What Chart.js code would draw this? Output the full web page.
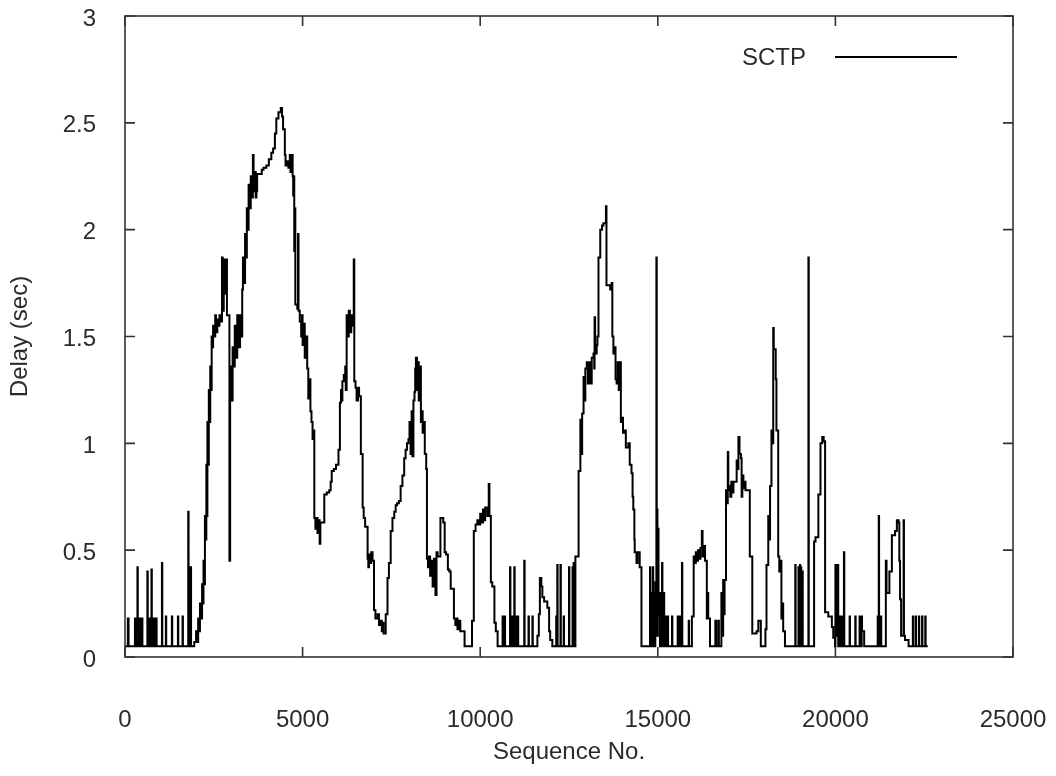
<!DOCTYPE html>
<html>
<head>
<meta charset="utf-8">
<script src="https://cdn.jsdelivr.net/npm/chart.js@4.4.1/dist/chart.umd.min.js"></script>
<style>
  html, body { margin: 0; padding: 0; background: #fff; }
  #wrap { width: 1056px; height: 776px; }
</style>
</head>
<body>
<div id="wrap"><canvas id="chart" width="1056" height="776"></canvas></div>
<script>
// sequence numbers (x) and delay in seconds (y)
const seqNo = [
  0, 80, 100, 280, 290, 310, 320, 350, 360, 380,
  400, 410, 440, 450, 480, 490, 600, 630, 640, 670,
  680, 710, 720, 745, 755, 780, 810, 820, 850, 860,
  880, 890, 1040, 1050, 1150, 1160, 1320, 1330, 1490, 1500,
  1620, 1630, 1780, 1790, 1800, 1820, 1840, 1860, 1950, 2000,
  // first hump
  2040, 2060, 2090, 2110, 2140, 2170, 2190, 2210, 2235, 2250,
  2270, 2290, 2300, 2320, 2340, 2360, 2375, 2400, 2420, 2440,
  2460, 2480, 2500, 2540, 2560, 2600, 2640, 2660, 2700, 2730,
  2750, 2780, 2800, 2830, 2870, 2900, 2940, 2960, 2980, 3000,
  3030, 3060, 3090, 3120, 3160, 3200, 3240, 3270, 3300, 3320,
  3350, 3380, 3400, 3430, 3460, 3480, 3510, 3540, 3570, 3600,
  3620, 3650, 3680, 3700, 3720, 3790, 3850, 3900, 3980, 4050,
  4120, 4170, 4220, 4260, 4320, 4385, 4420, 4450, 4500, 4520,
  4560, 4600, 4640, 4660, 4690, 4720, 4735, 4750, 4765, 4780,
  4795, 4850, 4870, 4885, 4920, 4960, 4980, 5000, 5040, 5060,
  // 5000 - 10500
  5100, 5130, 5160, 5190, 5220, 5250, 5280, 5310, 5330, 5360,
  5390, 5420, 5450, 5480, 5500, 5540, 5610, 5680, 5750, 5790,
  5820, 5880, 5940, 6010, 6050, 6080, 6100, 6120, 6160, 6200,
  6215, 6240, 6270, 6300, 6330, 6370, 6390, 6440, 6455, 6490,
  6520, 6560, 6590, 6640, 6690, 6720, 6760, 6830, 6850, 6870,
  6900, 6930, 6970, 7010, 7050, 7110, 7150, 7190, 7230, 7250,
  7280, 7340, 7390, 7430, 7480, 7530, 7580, 7620, 7660, 7710,
  7760, 7810, 7860, 7900, 7940, 7980, 8010, 8040, 8070, 8090,
  8120, 8150, 8170, 8190, 8220, 8240, 8270, 8310, 8330, 8350,
  8380, 8410, 8440, 8480, 8500, 8530, 8560, 8590, 8620, 8660,
  8700, 8740, 8770, 8800, 8840, 8880, 8930, 8960, 9000, 9040,
  9090, 9130, 9170, 9210, 9260, 9300, 9330, 9360, 9400, 9440,
  9490, 9560, 9730, 9770, 9820, 9870, 9920, 9960, 10000, 10040,
  10080, 10110, 10140, 10200, 10240, 10260, 10300, 10340, 10400, 10440,
  // 10500 - 14500
  10490, 10630, 10650, 10680, 10700, 10840, 10850, 10870, 10890, 10910,
  10930, 10960, 10970, 10990, 11010, 11030, 11050, 11070, 11240, 11250,
  11360, 11370, 11470, 11480, 11610, 11650, 11680, 11720, 11750, 11800,
  11890, 11940, 11970, 12030, 12140, 12160, 12170, 12180, 12260, 12270,
  12350, 12360, 12500, 12510, 12600, 12610, 12630, 12650, 12680, 12770,
  12820, 12840, 12870, 12910, 12940, 12960, 13000, 13030, 13060, 13100,
  13140, 13190, 13210, 13220, 13235, 13280, 13300, 13330, 13380, 13430,
  13470, 13540, 13555, 13620, 13660, 13700, 13720, 13750, 13790, 13810,
  13840, 13870, 13900, 13930, 13960, 13980, 14020, 14070, 14100, 14170,
  14210, 14260, 14290, 14310, 14340, 14350, 14400, 14430, 14490, 14540,
  // 14500 - 18300
  14780, 14790, 14820, 14840, 14860, 14870, 14890, 14910, 14930, 14950,
  14960, 14970, 14990, 15000, 15020, 15040, 15060, 15080, 15100, 15120,
  15130, 15160, 15180, 15210, 15230, 15280, 15290, 15400, 15410, 15560,
  15580, 15600, 15620, 15650, 15670, 15680, 15690, 15870, 15880, 15960,
  16010, 16040, 16070, 16100, 16130, 16160, 16200, 16240, 16260, 16290,
  16330, 16380, 16400, 16420, 16470, 16620, 16640, 16700, 16720, 16790,
  16810, 16840, 16860, 16880, 16920, 16950, 16970, 16985, 17010, 17040,
  17070, 17100, 17130, 17180, 17220, 17245, 17270, 17300, 17340, 17360,
  17380, 17410, 17440, 17470, 17500, 17590, 17660, 17780, 17830, 17900,
  18030, 18060, 18110, 18140, 18160, 18200, 18230, 18250, 18265, 18300,
  // tail
  18320, 18340, 18390, 18420, 18450, 18480, 18500, 18530, 18580, 18870,
  18880, 18960, 18970, 19000, 19010, 19030, 19040, 19070, 19080, 19240,
  19250, 19400, 19440, 19520, 19580, 19630, 19670, 19710, 19800, 19900,
  19940, 19990, 20000, 20010, 20060, 20080, 20130, 20150, 20180, 20200,
  20240, 20250, 20400, 20410, 20560, 20570, 20680, 20700, 20740, 20750,
  20810, 21190, 21200, 21220, 21230, 21280, 21290, 21420, 21440, 21520,
  21590, 21680, 21730, 21780, 21800, 21820, 21850, 21920, 21930, 21960,
  22060, 22180, 22190, 22260, 22270, 22350, 22360, 22440, 22450, 22530,
  22540, 22600
];

const delay = [
  0.05, 0.18, 0.05, 0.18, 0.05, 0.18, 0.05, 0.42, 0.18, 0.05,
  0.18, 0.05, 0.18, 0.05, 0.18, 0.05, 0.05, 0.40, 0.05, 0.18,
  0.05, 0.18, 0.05, 0.41, 0.18, 0.05, 0.18, 0.05, 0.18, 0.05,
  0.18, 0.05, 0.44, 0.05, 0.19, 0.05, 0.19, 0.05, 0.19, 0.05,
  0.19, 0.05, 0.68, 0.05, 0.42, 0.05, 0.42, 0.05, 0.07, 0.12,
  // first hump
  0.07, 0.18, 0.12, 0.25, 0.18, 0.34, 0.25, 0.45, 0.34, 0.66,
  0.55, 0.90, 0.66, 1.10, 0.90, 1.25, 1.10, 1.36, 1.25, 1.50,
  1.45, 1.55, 1.50, 1.60, 1.52, 1.58, 1.55, 1.60, 1.57, 1.87,
  1.62, 1.86, 1.70, 1.86, 1.60, 1.60, 0.45, 1.20, 1.36, 1.20,
  1.45, 1.36, 1.55, 1.40, 1.60, 1.45, 1.60, 1.50, 1.72, 1.87,
  1.75, 1.98, 1.87, 2.10, 2.00, 2.21, 2.10, 2.25, 2.15, 2.35,
  2.18, 2.27, 2.15, 2.18, 2.26, 2.26, 2.28, 2.29, 2.30, 2.33,
  2.36, 2.38, 2.45, 2.52, 2.55, 2.57, 2.53, 2.47, 2.35, 2.30,
  2.32, 2.29, 2.35, 2.27, 2.35, 2.25, 2.16, 2.25, 1.90, 2.10,
  1.65, 1.63, 1.98, 1.62, 1.57, 1.50, 1.60, 1.46, 1.56, 1.40,
  // 5000 - 10500
  1.50, 1.35, 1.21, 1.30, 1.15, 1.10, 1.02, 1.06, 0.65, 0.60,
  0.65, 0.58, 0.64, 0.53, 0.63, 0.63, 0.76, 0.77, 0.78, 0.82,
  0.87, 0.88, 0.90, 0.97, 1.19, 1.25, 1.20, 1.29, 1.32, 1.36,
  1.25, 1.60, 1.50, 1.62, 1.52, 1.60, 1.55, 1.86, 1.29, 1.26,
  1.20, 1.26, 1.22, 0.95, 0.70, 0.65, 0.61, 0.46, 0.42, 0.48,
  0.44, 0.49, 0.45, 0.22, 0.18, 0.20, 0.15, 0.17, 0.12, 0.16,
  0.11, 0.20, 0.37, 0.44, 0.59, 0.65, 0.68, 0.71, 0.72, 0.73,
  0.80, 0.85, 0.93, 0.97, 1.00, 1.02, 1.10, 0.95, 1.15, 0.94,
  1.20, 1.24, 1.35, 1.40, 1.25, 1.38, 1.20, 1.36, 1.10, 1.15,
  1.05, 1.10, 0.95, 0.88, 0.46, 0.42, 0.47, 0.38, 0.45, 0.33,
  0.46, 0.29, 0.49, 0.47, 0.47, 0.65, 0.65, 0.63, 0.49, 0.48,
  0.41, 0.40, 0.32, 0.32, 0.18, 0.15, 0.18, 0.13, 0.17, 0.12,
  0.12, 0.05, 0.05, 0.17, 0.59, 0.62, 0.64, 0.62, 0.67, 0.63,
  0.69, 0.64, 0.70, 0.66, 0.81, 0.66, 0.35, 0.33, 0.16, 0.12,
  // 10500 - 14500
  0.05, 0.19, 0.05, 0.19, 0.05, 0.42, 0.05, 0.19, 0.05, 0.19,
  0.05, 0.42, 0.19, 0.05, 0.19, 0.05, 0.19, 0.05, 0.45, 0.05,
  0.19, 0.05, 0.19, 0.05, 0.10, 0.20, 0.37, 0.33, 0.28, 0.26,
  0.23, 0.12, 0.08, 0.05, 0.19, 0.05, 0.43, 0.05, 0.43, 0.05,
  0.19, 0.05, 0.42, 0.05, 0.42, 0.05, 0.44, 0.05, 0.47, 0.87,
  1.11, 0.95, 1.14, 1.31, 1.20, 1.35, 1.38, 1.28, 1.38, 1.28,
  1.40, 1.42, 1.35, 1.59, 1.42, 1.46, 1.50, 1.87, 2.00, 2.02,
  2.03, 2.11, 1.74, 1.74, 1.72, 1.75, 1.50, 1.42, 1.45, 1.30,
  1.28, 1.38, 1.25, 1.38, 1.10, 1.12, 1.05, 1.06, 0.98, 1.00,
  0.90, 0.86, 0.75, 0.69, 0.55, 0.49, 0.44, 0.49, 0.42, 0.05,
  // 14500 - 18300
  0.42, 0.05, 0.30, 0.05, 0.42, 0.10, 0.30, 0.05, 0.35, 0.10,
  1.87, 0.69, 0.10, 0.60, 0.20, 0.30, 0.05, 0.30, 0.10, 0.44,
  0.05, 0.30, 0.05, 0.19, 0.05, 0.19, 0.05, 0.19, 0.05, 0.19,
  0.05, 0.19, 0.05, 0.19, 0.05, 0.44, 0.05, 0.17, 0.05, 0.19,
  0.47, 0.44, 0.49, 0.45, 0.50, 0.46, 0.51, 0.59, 0.47, 0.52,
  0.45, 0.18, 0.30, 0.18, 0.05, 0.17, 0.05, 0.17, 0.05, 0.30,
  0.10, 0.36, 0.20, 0.36, 0.78, 0.72, 0.96, 0.78, 0.80, 0.75,
  0.82, 0.77, 0.82, 0.82, 0.92, 0.88, 1.03, 0.95, 0.93, 0.75,
  0.85, 0.79, 0.82, 0.78, 0.78, 0.47, 0.11, 0.12, 0.17, 0.05,
  0.13, 0.43, 0.66, 0.55, 0.80, 1.06, 1.00, 1.54, 1.44, 1.44,
  // tail
  1.30, 1.06, 0.47, 0.40, 0.45, 0.18, 0.25, 0.12, 0.05, 0.43,
  0.05, 0.42, 0.05, 0.43, 0.10, 0.42, 0.05, 0.40, 0.05, 1.87,
  0.05, 0.54, 0.56, 0.76, 1.00, 1.03, 1.01, 0.21, 0.19, 0.14,
  0.09, 0.05, 0.43, 0.10, 0.43, 0.05, 0.19, 0.05, 0.19, 0.05,
  0.49, 0.05, 0.19, 0.05, 0.19, 0.05, 0.19, 0.05, 0.19, 0.12,
  0.05, 0.19, 0.05, 0.66, 0.05, 0.19, 0.05, 0.45, 0.30, 0.40,
  0.57, 0.59, 0.64, 0.63, 0.45, 0.27, 0.10, 0.64, 0.10, 0.08,
  0.05, 0.19, 0.05, 0.19, 0.05, 0.19, 0.05, 0.19, 0.05, 0.19,
  0.05, 0.05
];

const xTicks = [0, 5000, 10000, 15000, 20000, 25000];
const yTicks = [0, 0.5, 1, 1.5, 2, 2.5, 3];

if (seqNo.length !== delay.length) console.error('length mismatch', seqNo.length, delay.length);

const textColor = '#2b2b2b';
const frameColor = '#333333';
const font = { family: "'Liberation Sans', Arial, sans-serif", size: 24 };

// gnuplot-like frame with inward tick marks on all four sides, plus the key
const framePlugin = {
  id: 'frame',
  afterDatasetsDraw(chart) {
    const { ctx, chartArea: a, scales: { x, y } } = chart;
    const tick = 10;
    ctx.save();
    ctx.strokeStyle = frameColor;
    ctx.lineWidth = 1.6;
    ctx.strokeRect(a.left, a.top, a.right - a.left, a.bottom - a.top);
    ctx.beginPath();
    xTicks.forEach(v => {
      const px = x.getPixelForValue(v);
      ctx.moveTo(px, a.bottom); ctx.lineTo(px, a.bottom - tick);
      ctx.moveTo(px, a.top); ctx.lineTo(px, a.top + tick);
    });
    yTicks.forEach(v => {
      const py = y.getPixelForValue(v);
      ctx.moveTo(a.left, py); ctx.lineTo(a.left + tick, py);
      ctx.moveTo(a.right, py); ctx.lineTo(a.right - tick, py);
    });
    ctx.stroke();

    // key
    ctx.font = `${font.size}px ${font.family}`;
    ctx.fillStyle = textColor;
    ctx.textAlign = 'right';
    ctx.textBaseline = 'middle';
    ctx.fillText('SCTP', 806, 58);
    ctx.strokeStyle = '#000';
    ctx.lineWidth = 1.8;
    ctx.beginPath();
    ctx.moveTo(835, 57); ctx.lineTo(957, 57);
    ctx.stroke();
    ctx.restore();
  }
};

new Chart(document.getElementById('chart').getContext('2d'), {
  type: 'line',
  data: {
    datasets: [{
      label: 'SCTP',
      data: seqNo.map((s, i) => ({ x: s, y: delay[i] })),
      borderColor: '#000',
      borderWidth: 2,
      pointRadius: 0,
      stepped: true,
      fill: false
    }]
  },
  options: {
    responsive: false,
    animation: false,
    layout: { padding: { left: 0, right: 43, top: 16, bottom: 0 } },
    plugins: {
      legend: { display: false },
      tooltip: { enabled: false }
    },
    scales: {
      x: {
        type: 'linear',
        min: 0,
        max: 25000,
        afterBuildTicks: s => { s.ticks = xTicks.map(v => ({ value: v })); },
        afterFit: s => {
          s.height = 119;
          s.paddingLeft = 0; s.paddingRight = 0;
        },
        grid: { display: false, drawTicks: false },
        border: { display: false },
        ticks: {
          color: textColor,
          font: font,
          padding: 49,
          maxRotation: 0,
          autoSkip: false,
          callback: v => String(v)
        },
        title: {
          display: true,
          text: 'Sequence No.',
          color: textColor,
          font: font,
          padding: { top: 0, bottom: 9 }
        }
      },
      y: {
        min: 0,
        max: 3,
        afterBuildTicks: s => { s.ticks = yTicks.map(v => ({ value: v })); },
        afterFit: s => {
          s.width = 125;
          s.paddingTop = 0; s.paddingBottom = 0;
        },
        grid: { display: false, drawTicks: false },
        border: { display: false },
        ticks: {
          color: textColor,
          font: font,
          padding: 29,
          labelOffset: 3,
          callback: v => String(v)
        },
        title: {
          display: true,
          text: 'Delay (sec)',
          color: textColor,
          font: font,
          padding: { top: 6, bottom: 0 }
        }
      }
    }
  },
  plugins: [framePlugin]
});
</script>
</body>
</html>
